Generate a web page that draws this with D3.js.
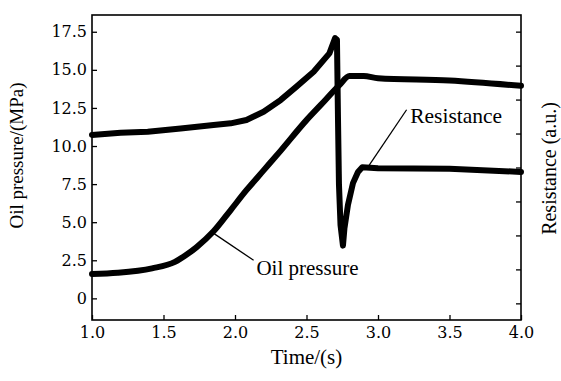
<!DOCTYPE html>
<html>
<head>
<meta charset="utf-8">
<script src="https://cdn.jsdelivr.net/npm/d3@7"></script>
<style>
  body { margin: 0; background: #fff; }
  .line { fill: none; stroke: #000; stroke-linejoin: round; stroke-linecap: round; }
</style>
</head>
<body>
<div id="chart"></div>
<script>
// oil pressure (MPa)
var oilTime = [1.0, 1.18, 1.42, 1.58, 1.65, 1.73, 1.85, 1.97, 2.08, 2.2, 2.32, 2.5, 2.6, 2.73, 2.8, 2.9, 3.0, 3.5, 4.0];
var oilPressure = [1.6, 1.68, 1.97, 2.4, 2.8, 3.35, 4.4, 5.8, 7.1, 8.4, 9.7, 11.7, 12.7, 14.0, 14.6, 14.6, 14.45, 14.3, 13.95];

// resistance (a.u., right axis tick units)
var resTime = [1.0, 1.2, 1.39, 1.62, 1.85, 1.97, 2.08, 2.2, 2.32, 2.43, 2.55, 2.66, 2.7, 2.713, 2.72, 2.727, 2.738, 2.755, 2.765, 2.79, 2.825, 2.86, 2.89, 3.0, 3.5, 4.0];
var resistance = [4.96, 5.02, 5.05, 5.15, 5.25, 5.3, 5.4, 5.64, 5.99, 6.38, 6.82, 7.36, 7.81, 7.76, 5.5, 3.5, 2.3, 1.7, 2.2, 2.9, 3.54, 3.87, 4.01, 3.98, 3.96, 3.87];

var xTicks = [1.0, 1.5, 2.0, 2.5, 3.0, 3.5, 4.0];
var yTicks = [0, 2.5, 5.0, 7.5, 10.0, 12.5, 15.0, 17.5];
var rTicks = [0, 1, 2, 3, 4, 5, 6, 7, 8];

var serif = '"Liberation Serif", "Times New Roman", serif';
var tickFont = '"DejaVu Serif", serif';

var margin = {top: 15, right: 40, bottom: 61, left: 92};
var W = 561, H = 381;
var w = W - margin.left - margin.right;
var h = H - margin.top - margin.bottom;

var x = d3.scaleLinear().domain([1, 4]).range([0, w]);
var y = d3.scaleLinear().domain([-1.42, 18.6]).range([h, 0]);
var yR = d3.scaleLinear().domain([-0.49, 8.49]).range([h, 0]);

var svg = d3.select("#chart").append("svg")
    .attr("width", W)
    .attr("height", H)
  .append("g")
    .attr("transform", "translate(" + margin.left + "," + margin.top + ")");

var fmt = function(d) { return d === 0 ? "0" : d3.format(".1f")(d); };

// ticks point inward on every side
var gx = svg.append("g")
    .attr("transform", "translate(0," + h + ")")
    .call(d3.axisBottom(x).tickValues(xTicks).tickSizeInner(-5).tickSizeOuter(0).tickPadding(7).tickFormat(d3.format(".1f")));

var gy = svg.append("g")
    .call(d3.axisLeft(y).tickValues(yTicks).tickSizeInner(-5).tickSizeOuter(0).tickPadding(5).tickFormat(fmt));

var gr = svg.append("g")
    .attr("transform", "translate(" + w + ",0)")
    .call(d3.axisRight(yR).tickValues(rTicks).tickSizeInner(-5).tickSizeOuter(0).tickFormat(""));

[gx, gy, gr].forEach(function(g) {
  g.attr("font-family", tickFont);
  g.select(".domain").remove();
  g.selectAll("line").attr("stroke", "#000").attr("stroke-width", 1.3);
  g.selectAll("text").style("font-family", tickFont).style("font-size", "16px").attr("fill", "#000");
});

// frame
svg.append("rect")
    .attr("x", 0).attr("y", 0)
    .attr("width", w).attr("height", h)
    .attr("fill", "none")
    .attr("stroke", "#000")
    .attr("stroke-width", 1.6);

var oilData = oilTime.map(function(t, i) { return [t, oilPressure[i]]; });
var resData = resTime.map(function(t, i) { return [t, resistance[i]]; });

var oilLine = d3.line()
    .x(function(d) { return x(d[0]); })
    .y(function(d) { return y(d[1]); })
    .curve(d3.curveMonotoneX);

var resLine = d3.line()
    .x(function(d) { return x(d[0]); })
    .y(function(d) { return yR(d[1]); })
    .curve(d3.curveLinear);

svg.append("path")
    .attr("class", "line")
    .attr("stroke-width", 6)
    .attr("d", oilLine(oilData));

svg.append("path")
    .attr("class", "line")
    .attr("stroke-width", 6)
    .attr("d", resLine(resData));

function label(sel, size) {
  return sel.style("font-family", serif).style("font-size", size + "px").attr("fill", "#000");
}

// annotations
svg.append("line")
    .attr("x1", x(1.846)).attr("y1", y(4.3))
    .attr("x2", x(2.13)).attr("y2", y(2.5))
    .attr("stroke", "#000").attr("stroke-width", 1.3);
label(svg.append("text"), 21)
    .attr("x", x(2.15)).attr("y", y(1.55))
    .text("Oil pressure");

svg.append("line")
    .attr("x1", x(2.92)).attr("y1", yR(3.95))
    .attr("x2", x(3.2)).attr("y2", yR(5.7))
    .attr("stroke", "#000").attr("stroke-width", 1.3);
label(svg.append("text"), 21.5)
    .attr("x", x(3.225)).attr("y", yR(5.3))
    .text("Resistance");

// axis titles
label(svg.append("text"), 21)
    .attr("x", w / 2).attr("y", h + 44)
    .attr("text-anchor", "middle")
    .text("Time/(s)");

label(svg.append("text"), 19)
    .attr("transform", "translate(" + (-69) + "," + (h / 2 - 12) + ") rotate(-90)")
    .attr("text-anchor", "middle")
    .text("Oil pressure/(MPa)");

label(svg.append("text"), 20)
    .attr("transform", "translate(" + (w + 35) + "," + (h / 2 + 1) + ") rotate(-90)")
    .attr("text-anchor", "middle")
    .text("Resistance (a.u.)");
</script>
</body>
</html>
